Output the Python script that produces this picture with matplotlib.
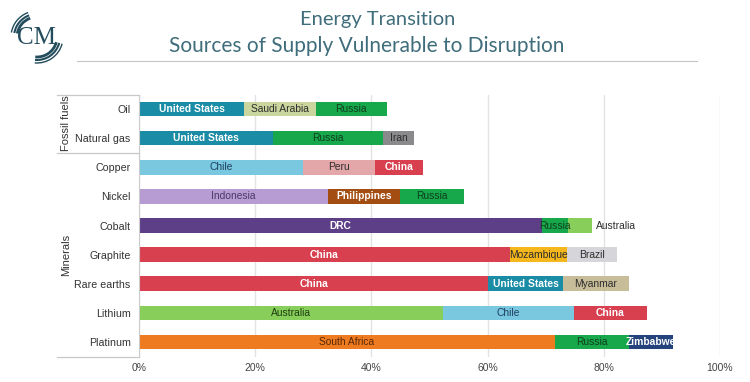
import matplotlib.pyplot as plt
import matplotlib.transforms as mtransforms
from matplotlib.patches import Arc, Rectangle

# ---- data (shares of world supply, %) ----
commodities = ["Oil", "Natural gas", "Copper", "Nickel", "Cobalt",
               "Graphite", "Rare earths", "Lithium", "Platinum"]

oil_countries = ["United States", "Saudi Arabia", "Russia"]
oil_shares = [18.1, 12.4, 12.1]
gas_countries = ["United States", "Russia", "Iran"]
gas_shares = [23.1, 18.9, 5.4]
copper_countries = ["Chile", "Peru", "China"]
copper_shares = [28.3, 12.3, 8.2]
nickel_countries = ["Indonesia", "Philippines", "Russia"]
nickel_shares = [32.6, 12.4, 10.9]
cobalt_countries = ["DRC", "Russia", "Australia"]
cobalt_shares = [69.4, 4.5, 4.1]
graphite_countries = ["China", "Mozambique", "Brazil"]
graphite_shares = [63.8, 9.9, 8.5]
rare_countries = ["China", "United States", "Myanmar"]
rare_shares = [60.1, 12.9, 11.3]
lithium_countries = ["Australia", "Chile", "China"]
lithium_shares = [52.4, 22.4, 12.7]
platinum_countries = ["South Africa", "Russia", "Zimbabwe"]
platinum_shares = [71.6, 12.8, 7.5]

groups = ["Fossil fuels", "Minerals"]
group_sizes = [2, 7]
xticks = [0, 20, 40, 60, 80, 100]
xtick_labels = ["0%", "20%", "40%", "60%", "80%", "100%"]

countries = [oil_countries, gas_countries, copper_countries, nickel_countries,
             cobalt_countries, graphite_countries, rare_countries,
             lithium_countries, platinum_countries]
shares = [oil_shares, gas_shares, copper_shares, nickel_shares, cobalt_shares,
          graphite_shares, rare_shares, lithium_shares, platinum_shares]

# ---- styling ----
fill = {"United States": "#1b8ca6", "Saudi Arabia": "#cbd59e", "Russia": "#16a84b",
        "Iran": "#8a8a8c", "Chile": "#79c8e0", "Peru": "#e3a7aa", "China": "#d8404f",
        "Indonesia": "#b79bd3", "Philippines": "#a34d12", "DRC": "#5d3f88",
        "Australia": "#87cf5a", "Mozambique": "#f5b71c", "Brazil": "#d6d6da",
        "Myanmar": "#c8bd99", "South Africa": "#ee7b1f", "Zimbabwe": "#24427c"}
ink = {"United States": "white", "China": "white", "Philippines": "white",
       "DRC": "white", "Zimbabwe": "white", "Russia": "#103d1d",
       "Chile": "#1d3f5e", "Indonesia": "#4b3a66", "South Africa": "#5a2806",
       "Australia": "#1f3d10"}
outside = {("Cobalt", "Australia")}

plt.rcParams['font.family'] = ['Liberation Sans', 'DejaVu Sans']

fig = plt.figure(figsize=(7.5, 3.82), dpi=100)
fig.patch.set_facecolor("white")
ax = fig.add_axes([139 / 750, 1 - 356.5 / 382, 581 / 750, 262 / 382])

bar_h = 0.5
for i, name in enumerate(commodities):
    left = 0
    total = sum(shares[i])
    clip = Rectangle((0, i - bar_h / 2), total, bar_h, transform=ax.transData)
    for c, v in zip(countries[i], shares[i]):
        ax.barh(i, v, left=left, height=bar_h, color=fill[c], edgecolor="none", zorder=2)
        col = ink.get(c, "#2d2d2d")
        wt = "bold" if col == "white" else "normal"
        if (name, c) in outside:
            ax.text(total + 0.6, i, c, ha="left", va="center", fontsize=7.4,
                    color="#2d2d2d", zorder=3)
        else:
            t = ax.text(left + v / 2, i, c, ha="center", va="center", fontsize=7.4,
                        color=col, fontweight=wt, zorder=3)
            t.set_clip_path(clip)
        left += v

ax.set_xlim(0, 100)
ax.set_ylim(len(commodities) - 0.5, -0.5)
ax.set_yticks(range(len(commodities)))
ax.set_yticklabels(commodities, fontsize=7.7, color="#333333")
ax.set_xticks(xticks)
ax.set_xticklabels(xtick_labels, fontsize=7.5, color="#444444")
ax.tick_params(axis="both", length=0)
ax.tick_params(axis="y", pad=6)
ax.tick_params(axis="x", pad=5)
ax.grid(axis="x", color="#e2e2e2", linewidth=1, zorder=0)
for s in ["top", "right", "bottom"]:
    ax.spines[s].set_visible(False)
ax.spines["left"].set_color("#cccccc")

# group brackets on the left
trans = mtransforms.blended_transform_factory(ax.transAxes, ax.transData)
edge = -0.5
xl = (57 - 139) / 581
ax.plot([xl, 0], [edge, edge], transform=trans, color="#c8c8c8", lw=0.9, clip_on=False)
for g, n in zip(groups, group_sizes):
    ax.text((66 - 139) / 581, edge + n / 2, g, rotation=90, ha="center", va="center",
            fontsize=8, color="#333333", transform=trans)
    edge += n
    ax.plot([xl, 0], [edge, edge], transform=trans, color="#c8c8c8", lw=0.9, clip_on=False)

# titles
title_col = "#3f6d7b"
fig.text(378 / 750, 1 - 20 / 382, "Energy Transition", ha="center", va="center",
         fontsize=14.5, color=title_col, family="Lato")
fig.text(367 / 750, 1 - 46 / 382, "Sources of Supply Vulnerable to Disruption",
         ha="center", va="center", fontsize=15, color=title_col, family="Lato")
fig.add_artist(plt.Line2D([77 / 750, 697 / 750], [1 - 61 / 382, 1 - 61 / 382],
                          color="#c4c4c4", lw=0.8))

# logo (y axis inverted: angles 180-270 sit upper-left, 0-90 lower-right)
lax = fig.add_axes([0, 1 - 75 / 382, 75 / 750, 75 / 382])
lax.set_xlim(0, 75)
lax.set_ylim(75, 0)
lax.axis("off")
lax.text(37, 38, "CM", ha="center", va="center", fontsize=18, color="#234c5c",
         family="Liberation Serif")
for r, lw in [(20, 2.0), (23, 1.5), (26, 1.0)]:
    lax.add_patch(Arc((37, 37), 2 * r, 2 * r, theta1=190, theta2=250,
                      color="#234c5c", lw=lw))
    lax.add_patch(Arc((37, 37), 2 * r, 2 * r, theta1=15, theta2=95,
                      color="#234c5c", lw=lw))

fig.savefig("out.png", dpi=100, facecolor="white")
